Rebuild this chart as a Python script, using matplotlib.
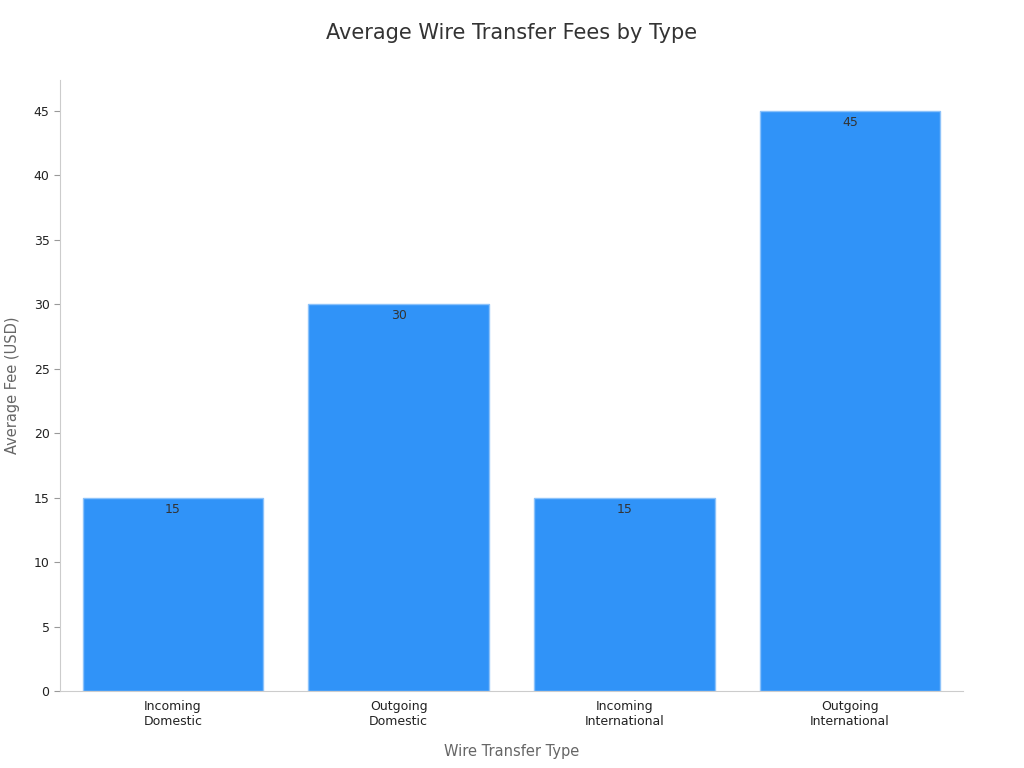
import matplotlib.pyplot as plt

categories = ["Incoming\nDomestic", "Outgoing\nDomestic", "Incoming\nInternational", "Outgoing\nInternational"]
fees = [15, 30, 15, 45]

fig = plt.figure(figsize=(10.24, 7.68), dpi=100)
ax = fig.add_axes([0.0586, 0.100, 0.8818, 0.796])

x = range(len(categories))
bars = ax.bar(x, fees, width=0.8, color="#3093F8", edgecolor="#8CC2FA", linewidth=1)
for b, v in zip(bars, fees):
    ax.text(b.get_x() + b.get_width() / 2, v - 0.4, str(v), ha="center", va="top",
            fontsize=9, color="#333333")

ax.set_xlim(-0.5, 3.5)
ax.set_ylim(0, 47.4)
ax.set_xticks(list(x))
ax.set_xticklabels(categories, fontsize=9, color="#222222")
ax.set_yticks(range(0, 46, 5))
ax.tick_params(axis="y", labelsize=9, labelcolor="#222222", color="#999999", length=4)
ax.tick_params(axis="x", length=0, pad=6)
for s in ["top", "right"]:
    ax.spines[s].set_visible(False)
for s in ["left", "bottom"]:
    ax.spines[s].set_color("#cccccc")

ax.set_xlabel("Wire Transfer Type", fontsize=10.5, color="#666666", labelpad=12)
ax.set_ylabel("Average Fee (USD)", fontsize=10.5, color="#666666", labelpad=10)
fig.suptitle("Average Wire Transfer Fees by Type", fontsize=15, color="#333333", y=0.97)

fig.savefig("out.png", dpi=100)
